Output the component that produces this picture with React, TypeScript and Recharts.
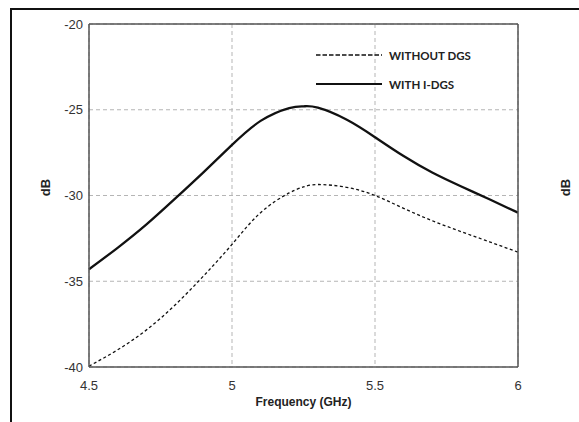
import React from "react";
import {
  LineChart, Line, XAxis, YAxis, CartesianGrid, ReferenceLine,
} from "recharts";

// frequency samples (GHz)
const freqs = [4.5, 4.6, 4.7, 4.8, 4.9, 5.0, 5.1, 5.2, 5.25, 5.3, 5.4, 5.5, 5.6, 5.7, 5.8, 5.9, 6.0];
const withoutDgs = [-39.95, -39.0, -37.85, -36.4, -34.7, -32.85, -31.0, -29.85, -29.5, -29.36, -29.52, -30.0, -30.75, -31.47, -32.1, -32.7, -33.3];
const withIDgs = [-34.3, -33.05, -31.7, -30.2, -28.65, -27.05, -25.65, -24.9, -24.8, -24.88, -25.57, -26.6, -27.7, -28.66, -29.46, -30.22, -31.0];

const xTicks = [4.5, 5, 5.5, 6];
const yTicks = [-40, -35, -30, -25, -20];

const series = [
  { key: "without", name: "WITHOUT DGS", dash: "3 2.5", width: 1.3, legendDash: "4.5 2", legendWidth: 1.6 },
  { key: "with", name: "WITH I-DGS", dash: undefined, width: 2.3, legendDash: undefined, legendWidth: 2 },
];

const data = freqs.map((f, i) => ({ f, without: withoutDgs[i], with: withIDgs[i] }));

const tickStyle = { fontSize: 13, fill: "#333", fontFamily: "'Liberation Sans', Arial, sans-serif" };

const LegendBox = () => (
  <div style={{ position: "absolute", left: 316, top: 47, display: "flex", flexDirection: "column", gap: "13px" }}>
    {series.map(s => (
      <div key={s.key} style={{ display: "flex", alignItems: "center", height: "16px" }}>
        <svg width={68} height={6} style={{ marginRight: "5px" }}>
          <line x1={0} y1={3} x2={66} y2={3} stroke="#111" strokeWidth={s.legendWidth} strokeDasharray={s.legendDash} />
        </svg>
        <span style={{ fontFamily: "Lato, sans-serif", fontWeight: 700, fontSize: "11.5px", color: "#222" }}>{s.name}</span>
      </div>
    ))}
  </div>
);

const dbLabel = (cx: number) => (props: any) => {
  const vb = props.viewBox || {};
  const y = (vb.y ?? 24) + (vb.height ?? 343) / 2 - 8;
  return (
    <text
      x={cx}
      y={y}
      transform={`rotate(-90 ${cx} ${y})`}
      textAnchor="middle"
      dominantBaseline="central"
      style={{ fontSize: 13, fontWeight: 700, fill: "#222", fontFamily: "'Liberation Sans', Arial, sans-serif" }}
    >
      dB
    </text>
  );
};

export default function App() {
  return (
    <div style={{ position: "absolute", left: 0, top: 0, width: 579, height: 422, overflow: "hidden", background: "#fff" }}>
      {/* outer frame, clipped at right/bottom like the source image */}
      <div style={{ position: "absolute", left: 10, top: 8, width: 600, height: 450, borderLeft: "2px solid #111", borderTop: "2px solid #111" }} />
      <div style={{ position: "absolute", left: 0, top: 0 }}>
        <LineChart width={579} height={422} data={data} margin={{ top: 24, right: 0, left: 0, bottom: 13 }}>
          <CartesianGrid yAxisId="left" stroke="#b5b5b5" strokeDasharray="4 3" strokeWidth={1} />
          <XAxis
            dataKey="f"
            type="number"
            domain={[4.5, 6]}
            ticks={xTicks}
            height={42}
            tickSize={0}
            tickMargin={14}
            tick={tickStyle}
            axisLine={{ stroke: "#555", strokeWidth: 1.5 }}
            label={{
              value: "Frequency (GHz)",
              position: "insideBottom",
              offset: 3,
              style: { fontSize: 12, fontWeight: 700, fill: "#222", fontFamily: "'Liberation Sans', Arial, sans-serif" },
            }}
          />
          <YAxis
            yAxisId="left"
            domain={[-40, -20]}
            ticks={yTicks}
            width={89}
            tickSize={0}
            tickMargin={6}
            tick={tickStyle}
            axisLine={{ stroke: "#555", strokeWidth: 1.5 }}
            label={dbLabel(45)}
          />
          <YAxis
            yAxisId="right"
            orientation="right"
            domain={[-40, -20]}
            ticks={yTicks}
            width={61}
            tickSize={0}
            tickMargin={9}
            tick={tickStyle}
            axisLine={{ stroke: "#555", strokeWidth: 1.5 }}
            label={dbLabel(565)}
          />
          <ReferenceLine yAxisId="left" y={-20} stroke="#555" strokeWidth={1.5} />
          {series.map(s => (
            <Line
              key={s.key}
              yAxisId="left"
              dataKey={s.key}
              name={s.name}
              type="natural"
              stroke="#111"
              strokeWidth={s.width}
              strokeDasharray={s.dash}
              dot={false}
              isAnimationActive={false}
            />
          ))}
        </LineChart>
      </div>
      <LegendBox />
    </div>
  );
}
